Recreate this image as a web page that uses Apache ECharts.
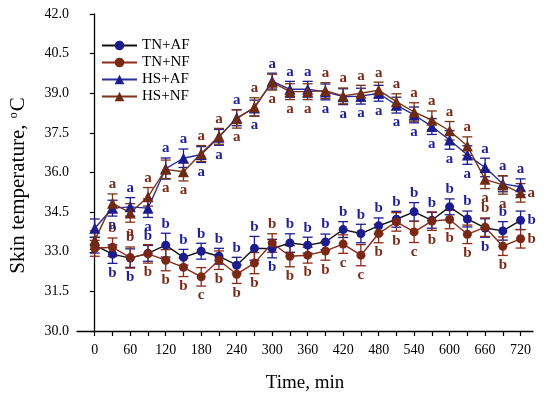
<!DOCTYPE html>
<html><head><meta charset="utf-8">
<script src="https://cdn.jsdelivr.net/npm/echarts@6/dist/echarts.min.js"></script>
<style>html,body{margin:0;padding:0;background:#fff;}#c{width:550px;height:399px;}</style>
</head><body><div id="c"></div>
<script>
// ---- data ----
const times = [0,30,60,90,120,150,180,210,240,270,300,330,360,390,420,450,480,510,540,570,600,630,660,690,720];
const xLabelValues = [0,60,120,180,240,300,360,420,480,540,600,660,720];
const seriesNames = ['TN+AF','TN+NF','HS+AF','HS+NF'];

const tnAF = [33.25,32.91,32.76,32.94,33.25,32.79,33.02,32.83,32.49,33.13,33.12,33.33,33.25,33.37,33.84,33.69,33.98,34.23,34.51,34.19,34.70,34.24,33.90,33.79,34.19];
const tnNF = [33.13,33.17,32.78,32.92,32.68,32.41,32.05,32.68,32.15,32.57,33.33,32.83,32.87,33.03,33.29,32.87,33.69,34.13,33.75,34.16,34.22,33.66,33.93,33.21,33.49];
const hsAF = [33.89,34.65,34.70,34.65,36.15,36.54,36.68,37.33,38.07,38.44,39.46,39.15,39.15,39.05,38.87,38.89,39.00,38.55,38.18,37.74,37.23,36.66,36.19,35.57,35.46];
const hsNF = [33.44,34.84,34.47,35.08,36.12,36.03,36.72,37.37,38.03,38.48,39.42,39.06,39.06,39.10,38.90,39.00,39.12,38.68,38.29,37.98,37.58,37.00,35.74,35.53,35.23];

const tnAFerr = [0.30,0.35,0.35,0.30,0.45,0.30,0.30,0.30,0.30,0.45,0.35,0.35,0.30,0.30,0.30,0.35,0.30,0.30,0.35,0.30,0.30,0.30,0.35,0.35,0.35];
const tnNFerr = [0.30,0.35,0.40,0.35,0.40,0.35,0.35,0.35,0.35,0.40,0.35,0.40,0.30,0.35,0.35,0.40,0.35,0.35,0.40,0.35,0.35,0.35,0.35,0.35,0.35];
const hsAFerr = [0.35,0.30,0.35,0.35,0.40,0.35,0.30,0.30,0.30,0.30,0.30,0.30,0.30,0.30,0.30,0.30,0.30,0.30,0.30,0.30,0.35,0.35,0.35,0.30,0.30];
const hsNFerr = [0.35,0.35,0.35,0.35,0.35,0.35,0.30,0.30,0.35,0.35,0.30,0.30,0.30,0.30,0.30,0.30,0.30,0.30,0.35,0.35,0.35,0.35,0.35,0.35,0.35];

const tnAFletters = ['','b','b','b','b','b','b','b','b','b','b','b','b','b','b','b','b','b','b','b','b','b','b','b','b'];
const tnNFletters = ['','b','b','b','b','b','c','b','b','b','b','b','b','b','c','c','b','b','c','b','b','b','b','b','b'];
const hsAFletters = ['','a','a','a','a','a','a','a','a','a','a','a','a','a','a','a','a','a','a','a','a','a','a','a','a'];
const hsNFletters = ['','a','a','a','a','a','a','a','a','a','a','a','a','a','a','a','a','a','a','a','a','a','a','a','a'];

// letter side: t = above, b = below, r = right
const tnAFside = ['','b','b','t','t','t','t','t','t','t','b','t','t','t','t','t','t','t','t','t','t','t','b','t','r'];
const tnNFside = ['','t','t','b','b','b','b','b','b','b','t','b','b','b','b','b','b','b','b','b','b','b','t','b','r'];
const hsAFside = ['','b','t','b','t','t','b','b','t','b','t','t','t','b','b','b','b','b','b','b','b','b','t','t','t'];
const hsNFside = ['','t','b','t','b','b','t','t','b','t','b','b','b','t','t','t','t','t','t','t','t','t','b','b','r'];

// ---- styles ----
const FONT = 'Liberation Serif';
const NAVY = '#1c1c8e';
const BROWN = '#7a2814';

function lineSeries(name, vals, symbol, size, markerColor, lineColor) {
  return {
    type: 'line', name: name, z: 4,
    data: times.map((t, i) => [t, vals[i]]),
    symbol: symbol, symbolSize: size, showSymbol: true,
    itemStyle: { color: markerColor, borderWidth: 0 },
    lineStyle: { color: lineColor, width: 1.4 },
    emphasis: { disabled: true },
    animation: false
  };
}

function errSeries(name, vals, errs, letters, sides, barColor, txtColor) {
  return {
    type: 'custom', name: name + ' err', z: 3, silent: true, animation: false,
    data: times.map((t, i) => [t, vals[i], errs[i]]),
    encode: { x: 0, y: 1 },
    renderItem: function (params, api) {
      const x = api.value(0), y = api.value(1), e = api.value(2);
      const p = api.coord([x, y]);
      const hi = api.coord([x, y + e]);
      const lo = api.coord([x, y - e]);
      const w = 5;
      const st = { stroke: barColor, lineWidth: 1.3 };
      const children = [
        { type: 'line', shape: { x1: p[0], y1: hi[1], x2: p[0], y2: lo[1] }, style: st },
        { type: 'line', shape: { x1: p[0] - w, y1: hi[1], x2: p[0] + w, y2: hi[1] }, style: st },
        { type: 'line', shape: { x1: p[0] - w, y1: lo[1], x2: p[0] + w, y2: lo[1] }, style: st }
      ];
      const L = letters[params.dataIndex];
      const s = sides[params.dataIndex];
      if (L) {
        let tx = p[0], ty, va = 'middle', ta = 'center';
        if (s === 't') { ty = hi[1] - 2; va = 'bottom'; }
        else if (s === 'b') { ty = lo[1] + 2; va = 'top'; }
        else { tx = p[0] + 7; ty = p[1]; ta = 'left'; }
        children.push({
          type: 'text',
          style: { text: L, x: tx, y: ty, align: ta, verticalAlign: va,
                   fill: txtColor, font: 'bold 15px "' + FONT + '"' }
        });
      }
      return { type: 'group', children: children };
    }
  };
}

const chart = echarts.init(document.getElementById('c'), null, { renderer: 'canvas' });
chart.setOption({
  backgroundColor: '#fff',
  animation: false,
  grid: { left: 75, right: 17, top: 14, bottom: 68, containLabel: false },
  legend: {
    data: seriesNames,
    orient: 'vertical', left: 96, top: 33,
    itemWidth: 35, itemHeight: 12, itemGap: 2,
    textStyle: { fontFamily: FONT, fontSize: 15, color: '#000' },
    selectedMode: false
  },
  xAxis: {
    type: 'value', min: -30, max: 741, interval: 30,
    name: 'Time, min', nameLocation: 'middle', nameGap: 43,
    nameTextStyle: { fontFamily: FONT, fontSize: 19, color: '#000' },
    axisLine: { show: true, onZero: false, lineStyle: { color: '#000', width: 1.3 } },
    axisTick: { show: true, inside: false, length: 5, customValues: times, lineStyle: { color: '#000', width: 1.2 } },
    axisLabel: { customValues: xLabelValues, margin: 12, fontFamily: FONT, fontSize: 14, color: '#000',
                 formatter: v => String(v) },
    splitLine: { show: false }
  },
  yAxis: {
    type: 'value', min: 30, max: 42, interval: 1.5,
    name: '{t|Skin temperature, }{s|o}{t|C}', nameLocation: 'middle', nameGap: 48,
    nameTextStyle: {
      color: '#000', padding: [0, 26, 0, 0],
      rich: {
        t: { fontFamily: FONT, fontSize: 21, color: '#000' },
        s: { fontFamily: FONT, fontSize: 12, color: '#000', verticalAlign: 'top', padding: [0, 1, 8, 1] }
      }
    },
    axisLine: { show: true, lineStyle: { color: '#000', width: 1.3 } },
    axisTick: { show: true, inside: false, length: 5, lineStyle: { color: '#000', width: 1.2 } },
    axisLabel: { margin: 8, fontFamily: FONT, fontSize: 14, color: '#000', formatter: v => v.toFixed(1) },
    splitLine: { show: false }
  },
  series: [
    errSeries('TN+AF', tnAF, tnAFerr, tnAFletters, tnAFside, NAVY, '#1f1f9a'),
    errSeries('TN+NF', tnNF, tnNFerr, tnNFletters, tnNFside, '#8a2a1a', '#7a2a18'),
    errSeries('HS+AF', hsAF, hsAFerr, hsAFletters, hsAFside, NAVY, '#1f1f9a'),
    errSeries('HS+NF', hsNF, hsNFerr, hsNFletters, hsNFside, '#7a3516', '#7a2a18'),
    lineSeries('TN+AF', tnAF, 'circle', 9, NAVY, '#111111'),
    lineSeries('TN+NF', tnNF, 'circle', 9, BROWN, '#8a2a1a'),
    lineSeries('HS+AF', hsAF, 'triangle', 11, NAVY, '#2b2b9a'),
    lineSeries('HS+NF', hsNF, 'triangle', 11, '#6e2a12', '#7a3516')
  ]
});
</script></body></html>
